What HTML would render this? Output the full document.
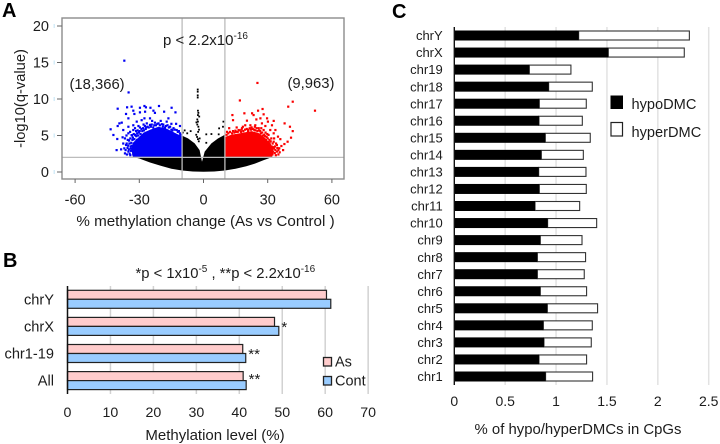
<!DOCTYPE html>
<html>
<head>
<meta charset="utf-8">
<title>Methylation figure</title>
<style>
html,body{margin:0;padding:0;background:#fff;width:720px;height:444px;overflow:hidden}
svg{display:block;font-family:"Liberation Sans",Arial,sans-serif;fill:#1c1c1c}
</style>
</head>
<body>
<svg id="fig" width="720" height="444" viewBox="0 0 720 444" xmlns="http://www.w3.org/2000/svg">
  <text x="2" y="17" font-size="20" font-weight="bold" fill="#000">A</text>
  <text x="3" y="267" font-size="20" font-weight="bold" fill="#000">B</text>
  <text x="392" y="18" font-size="20" font-weight="bold" fill="#000">C</text>

  <g id="panelA"></g>
  <text x="205.5" y="226" font-size="15.2" text-anchor="middle">% methylation change (As vs Control )</text>
  <text transform="translate(25,98.5) rotate(-90)" font-size="14.7" text-anchor="middle">-log10(q-value)</text>
  <text x="163" y="45" font-size="15">p &lt; 2.2x10<tspan dy="-6" font-size="10">-16</tspan></text>
  <text x="69.5" y="89" font-size="14.8">(18,366)</text>
  <text x="287.5" y="88" font-size="14.8">(9,963)</text>

  <g id="panelB"></g>
  <text x="135.5" y="278" font-size="14.8">*p &lt; 1x10<tspan dy="-6" font-size="10">-5</tspan><tspan dy="6"> , **p &lt; 2.2x10</tspan><tspan dy="-6" font-size="10">-16</tspan></text>
  <text x="215" y="440" font-size="15" text-anchor="middle">Methylation level (%)</text>
  <rect x="323.5" y="357.5" width="8" height="8.5" fill="#ffcccc" stroke="#222" stroke-width="1.3"/>
  <text x="335" y="366.5" font-size="14.5">As</text>
  <rect x="323.5" y="376.5" width="8" height="8.5" fill="#99ccff" stroke="#222" stroke-width="1.3"/>
  <text x="335" y="385.5" font-size="14.5">Cont</text>

  <g id="panelC"></g>
  <text x="578" y="434" font-size="14.9" text-anchor="middle">% of hypo/hyperDMCs in CpGs</text>
  <rect x="610.5" y="95.5" width="12.5" height="13.5" fill="#000"/>
  <text x="631.5" y="109" font-size="14.6">hypoDMC</text>
  <rect x="611" y="122.5" width="11.5" height="13.5" fill="#fff" stroke="#222" stroke-width="1.2"/>
  <text x="631.5" y="137" font-size="14.6">hyperDMC</text>
</svg>
<script>
/* ---------- Panel A data ---------- */
var volcanoXTicks = [-60, -30, 0, 30, 60];
var volcanoYTicks = [0, 5, 10, 15, 20];
var volcanoThresholdX = [-10, 10];
var volcanoThresholdY = 2;
/* Outline of the solid, overplotted point clouds */
var blackCloud = [[-33.5,2.1],[-10.2,2.1],[-10.2,5],[-7.25,4.6],[-4.1,3.92],[-1.8,3],[-0.7,1.4],[0.55,2.8],[3.7,3.92],[6.8,4.6],[10,5.1],[10,2.1],[32.5,2.1],[28,1.6],[24,1.15],[20,0.8],[15,0.45],[10,0.2],[5,0.07],[0,0.03],[-5,0.07],[-10,0.2],[-15,0.45],[-20,0.85],[-25,1.3],[-30,1.85]];
var blueCloud = [[-33,2.1],[-33.8,3.1],[-33,4],[-30.5,4.7],[-28,5.4],[-25,5.8],[-21,6.2],[-17,5.9],[-13,5.3],[-10.2,4.9],[-10.2,2.1]];
var redCloud = [[10,2.1],[10,4.8],[13,5.1],[17,5.3],[22.5,5.6],[26,5.3],[29,4.6],[31.5,3.8],[33,2.8],[32,2.1]];
/* Individually visible points */
var bluePoints = [[-37,15.25],[-35,10.9],[-40.1,8.67],[-35.7,8.86],[-33.6,8.95],[-32.8,8.4],[-29.7,8.8],[-27.6,9.04],[-26.9,8.86],[-24.8,8.8],[-20.8,9.04],[-14.9,8.8],[-13.1,8.17],[-36.2,7.95],[-32.3,7.95],[-29.7,8.17],[-27.3,8.26],[-23.4,8.4],[-22.7,8.1],[-18.4,8.26],[-35.1,7.35],[-39.3,6.66],[-38.2,6.76],[-40.1,6.3],[-43.4,5.85],[-42.1,5.07],[-40.3,4.52],[-40.6,3],[-38.5,3.1],[-37,3.24],[-37.5,5.75],[-37.8,4.75],[-35.1,6.2],[-32.8,6.4],[-31.2,6.9],[-28.9,7.1],[-27.6,7.35],[-25,7.35],[-16.4,7.35],[-17.2,6.9],[-12.8,6.6],[-11,6.3],[-36.7,2.55],[-36.7,4.6],[-35.9,3.9],[-35.1,5.3],[-34.3,5.5],[-33.6,5.05],[-32.8,5.75],[-32,6],[-30.4,6.3],[-29.7,6.1],[-26.5,6.66],[-25,6.45],[-22.7,6.76],[-21,6.66],[-19.5,6.55],[-17.6,6.3],[-15.6,6.2],[-14,6],[-12.5,5.75],[-11,5.3],[-36.2,3.7],[-34.8,4.3],[-34,3.2],[-35.1,2.8],[-32.8,2.4],[-33.5,3.6],[-34.5,2.5],[-31.5,5.6],[-28,6.5],[-24,7],[-20,7],[-19,6.2],[-15,6.6],[-23.5,6.1],[-27,5.9],[-33.2,4.4],[-35.5,3.3],[-31,4.4],[-37.5,3.9],
[-35.8,2.4],[-35.2,3.6],[-34.6,3.9],[-34.2,4.6],[-33.9,2.9],[-33.7,4],[-33.4,5],[-33,4.7],[-32.6,5.2],[-32.3,4.5],[-32,5.1],[-31.7,5],[-31.4,4.9],[-31,5.3],[-30.8,5.7],[-30.5,5],[-30.2,5.4],[-29.8,5.6],[-29.4,5.2],[-29,5.9],[-28.6,5.6],[-28.2,6],[-27.8,5.7],[-27.4,6.3],[-26.8,6.1],[-26.2,6.2],[-25.6,6.1],[-24.6,6.2],[-24.2,6.5],[-23,6.4],[-22.2,6.4],[-21.6,6.6],[-20.4,6.4],[-18.8,6.5],[-18,6.1],[-16.8,6.4],[-16.2,6.1],[-15,5.8],[-14.5,5.7],[-13.4,5.8],[-12,5.5],[-11.5,5.6],[-10.8,5.1],[-36.4,3],[-34.2,2.3],[-34,3.5],[-34.9,3.1],[-35.4,4.4],[-36,5]];
var redPoints = [[25.2,12.2],[17,9.8],[41.7,9.63],[39.6,8.95],[52.1,8.4],[13.5,7.8],[19.1,8.04],[22.7,8.04],[23.4,7.8],[25.5,8.4],[27.6,8.63],[28.1,7.9],[13.8,7.1],[20.3,7.03],[24.7,7.2],[26.6,7.35],[29.7,7.35],[30.1,6.9],[32.8,7],[32,6.4],[37.9,6.66],[40.4,6.2],[41.7,5.6],[40.9,4.7],[39.3,4.15],[37.8,3.83],[37.2,3],[35.9,4.5],[34.8,4.84],[33.6,5.75],[32.8,5.3],[12,6],[21.9,6.4],[24.2,6.4],[27.3,6.66],[28.9,6.3],[19.5,6.4],[18,6],[16.4,5.75],[14.9,5.66],[13.3,5.3],[31.7,4.6],[32.8,4.15],[34.3,3.7],[35.4,3.25],[33.6,3],[36.4,3.56],[34.3,2.8],[32,3.2],[30.4,5.07],[28.1,5.75],[25.8,6],[31.2,5.75],[32,2.55],[30.4,2.55],[29,5.4],[26.5,5.6],[23,5.9],[21,5.8],[17.5,5.5],[30.8,4.4],[33.4,3.5],[35,2.4],[29.5,4.8],[22.5,6.1],[11,5.5],[15.5,6.1],[27,6],
[10.8,5.1],[11.6,5.3],[12.4,5.5],[13.8,5.6],[14.4,5.4],[15.2,5.5],[16,5.5],[16.8,5.7],[17.8,5.8],[18.6,5.6],[19.4,5.8],[20.2,5.9],[20.8,5.6],[21.6,6],[22.2,5.8],[23.6,5.8],[24.2,5.7],[24.8,6],[25.2,5.6],[26,5.7],[26.8,5.3],[27.4,5.4],[27.8,5],[28.4,5.1],[28.8,4.9],[29.2,4.4],[30,4.6],[30.4,4.1],[30.9,3.9],[31.4,4.2],[31.8,3.5],[32.3,3.9],[32.6,3.4],[33,3.2],[33.3,2.6],[33.8,2.3],[33.9,3.9],[34.5,3.3],[35,3],[35.6,2.7],[32.2,2.4],[33,4.6],[29.8,5.2],[24,6.2],[18.4,6.2]];
var blackPoints = [[-2.7,11.3],[-2.7,11],[-2.7,10.5],[-2.7,10.2],[-2.6,8.4],[-2.4,8.1],[-2.6,7.8],[-2,7.6],[-2.9,7.2],[-3.3,6.8],[-2.6,6.9],[-2.9,6.5],[-2.4,6.2],[-2.1,5.8],[-2.5,5.5],[-8.8,5.7],[-6,5.6],[1.3,5.16],[3.7,5.2],[7.1,5.16],[7.3,5.98],[9.3,6.9],[9.1,6.2],[1.3,4],[-1.8,4.6],[-3,4.8],[-3.4,5.1],[-7.6,5.3],[-9.7,5.4],[-2.2,4.2],[-2.6,4.5]];

/* ---------- Panel B data ---------- */
var levelCategories = ['chrY', 'chrX', 'chr1-19', 'All'];
var levelAs = [60.3, 48.2, 40.8, 40.9];
var levelCont = [61.3, 49.2, 41.5, 41.6];
var levelMarks = ['', '*', '**', '**'];
var levelTicks = [0, 10, 20, 30, 40, 50, 60, 70];

/* ---------- Panel C data ---------- */
var dmcCategories = ['chrY','chrX','chr19','chr18','chr17','chr16','chr15','chr14','chr13','chr12','chr11','chr10','chr9','chr8','chr7','chr6','chr5','chr4','chr3','chr2','chr1'];
var dmcHypo = [1.222,1.513,0.737,0.927,0.835,0.832,0.894,0.855,0.829,0.835,0.793,0.917,0.845,0.816,0.816,0.845,0.914,0.875,0.881,0.832,0.897];
var dmcHyper = [1.088,0.747,0.409,0.429,0.462,0.426,0.442,0.413,0.465,0.462,0.439,0.482,0.41,0.474,0.461,0.455,0.494,0.481,0.465,0.468,0.462];
var dmcTicks = [0, 0.5, 1, 1.5, 2, 2.5];

var NS = 'http://www.w3.org/2000/svg';
function mk(parent, tag, attrs, txt) {
  var el = document.createElementNS(NS, tag);
  for (var k in attrs) el.setAttribute(k, attrs[k]);
  if (txt !== undefined) el.textContent = txt;
  parent.appendChild(el);
  return el;
}
var el;

/* ---------- Panel A ---------- */
(function () {
  var g = document.getElementById('panelA');
  function x(v) { return 203.5 + v * 2.14; }
  function y(v) { return 172 - v * 7.3; }
  function poly(a) { return a.map(function (p) { return x(p[0]).toFixed(1) + ',' + y(p[1]).toFixed(1); }).join(' '); }

  el = mk(g, 'polygon', {points: poly(blackCloud), fill: '#000'});
  
  
  el = mk(g, 'polygon', {points: poly(blueCloud), fill: '#0000f5'});
  
  
  el = mk(g, 'polygon', {points: poly(redCloud), fill: '#fb0000'});
  
  

  bluePoints.forEach(function (p) {
    el = mk(g, 'rect', {x: x(p[0]) - 1.1, y: y(p[1]) - 1.1, width: 2.2, height: 2.2, fill: '#0000f5'});
    
    
  });
  redPoints.forEach(function (p) {
    el = mk(g, 'rect', {x: x(p[0]) - 1.1, y: y(p[1]) - 1.1, width: 2.2, height: 2.2, fill: '#fb0000'});
    
    
  });
  blackPoints.forEach(function (p) {
    el = mk(g, 'rect', {x: x(p[0]) - 0.9, y: y(p[1]) - 0.9, width: 1.8, height: 1.8, fill: '#000'});
    
    
  });

  volcanoThresholdX.forEach(function (v) {
    el = mk(g, 'line', {x1: x(v), x2: x(v), y1: 18, y2: 179, stroke: '#bcbcbc', 'stroke-width': 1.3});
    
    
  });
  el = mk(g, 'line', {x1: 62, x2: 344, y1: y(volcanoThresholdY), y2: y(volcanoThresholdY), stroke: '#bcbcbc', 'stroke-width': 1.2});
  
  

  el = mk(g, 'rect', {x: 62, y: 18, width: 282, height: 161, fill: 'none', stroke: '#8c8c8c', 'stroke-width': 1.4});
  
  

  volcanoXTicks.forEach(function (v) {
    el = mk(g, 'line', {x1: x(v), x2: x(v), y1: 179, y2: 183, stroke: '#666', 'stroke-width': 1});
    
    
    el = mk(g, 'text', {x: x(v), y: 204.5, 'font-size': 14.5, 'text-anchor': 'middle'}, String(v));
    
    
  });
  volcanoYTicks.forEach(function (v) {
    el = mk(g, 'line', {x1: 57, x2: 62, y1: y(v), y2: y(v), stroke: '#666', 'stroke-width': 1});
    
    
    el = mk(g, 'rect', {x: 53.5, y: y(v) - 2, width: 1.5, height: 4, fill: '#d5ecf8'});
    
    
    el = mk(g, 'text', {x: 49, y: y(v) + 5, 'font-size': 14.5, 'text-anchor': 'end'}, String(v));
    
    
  });
})();

/* ---------- Panel B ---------- */
(function () {
  var g = document.getElementById('panelB');
  function x(v) { return 67.5 + v * 4.295; }
  function band(i) { return 299.3 + i * 27.1; }
  var barH = 9;

  levelTicks.forEach(function (v) {
    if (v > 0) {
      el = mk(g, 'line', {x1: x(v), x2: x(v), y1: 286, y2: 394, stroke: '#d2d2d2', 'stroke-width': 1.5});
      
      
    }
    el = mk(g, 'text', {x: x(v), y: 417, 'font-size': 14.2, 'text-anchor': 'middle'}, String(v));
    
    
  });

  levelCategories.forEach(function (c, i) {
    el = mk(g, 'rect', {x: x(0), y: band(i) - barH, width: x(levelAs[i]) - x(0), height: barH, fill: '#ffcccc', stroke: '#222', 'stroke-width': 1.2});
    
    
    el = mk(g, 'rect', {x: x(0), y: band(i), width: x(levelCont[i]) - x(0), height: barH, fill: '#99ccff', stroke: '#222', 'stroke-width': 1.2});
    
    
    el = mk(g, 'text', {x: 54, y: band(i) + 5, 'font-size': 14.6, 'text-anchor': 'end'}, c);
    
    
    if (levelMarks[i]) {
      el = mk(g, 'text', {x: x(levelCont[i]) + 2.5, y: band(i) + (i === 3 ? 3.5 : 5.5), 'font-size': 15}, levelMarks[i]);
      
      
    }
  });

  el = mk(g, 'line', {x1: x(0), x2: x(0), y1: 286, y2: 394, stroke: '#111', 'stroke-width': 1.5});
  
  
})();

/* ---------- Panel C ---------- */
(function () {
  var g = document.getElementById('panelC');
  function x(v) { return 454.3 + v * 101.76; }
  function band(i) { return 35.5 + i * 17.05; }
  var barH = 9;

  dmcTicks.forEach(function (v) {
    if (v > 0) {
      el = mk(g, 'line', {x1: x(v), x2: x(v), y1: 27, y2: 385, stroke: '#e2e2e2', 'stroke-width': 1.5});
      
      
    }
    el = mk(g, 'text', {x: x(v), y: 406, 'font-size': 14, 'text-anchor': 'middle'}, String(v));
    
    
  });

  dmcCategories.forEach(function (c, i) {
    var top = band(i) - barH / 2;
    el = mk(g, 'rect', {x: x(dmcHypo[i]), y: top, width: x(dmcHypo[i] + dmcHyper[i]) - x(dmcHypo[i]), height: barH, fill: '#fff', stroke: '#333', 'stroke-width': 1.1});
    
    
    el = mk(g, 'rect', {x: x(0), y: top - 0.5, width: x(dmcHypo[i]) - x(0), height: barH + 1, fill: '#000'});
    
    
    el = mk(g, 'text', {x: 442.7, y: band(i) + 4.6, 'font-size': 13, 'text-anchor': 'end'}, c);
    
    
  });

  el = mk(g, 'line', {x1: x(0), x2: x(0), y1: 27, y2: 385, stroke: '#111', 'stroke-width': 1.4});
  
  
})();
</script>
</body>
</html>
